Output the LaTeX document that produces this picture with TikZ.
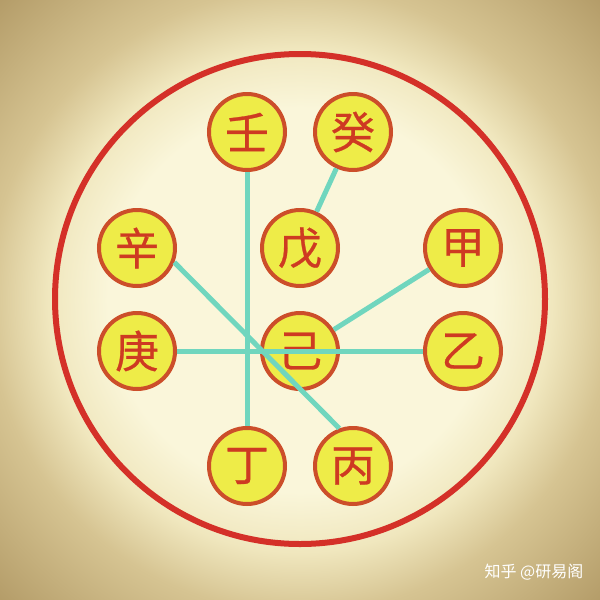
\documentclass[tikz,border=0pt]{standalone}
\usepackage{fontspec}
\newfontfamily\cjk{Noto Sans CJK SC}
\newfontfamily\cjkstem[FakeBold=0.6]{Noto Sans CJK SC}
\definecolor{paper}{RGB}{250,246,218}
\definecolor{paperedge}{RGB}{240,231,190}
\definecolor{tanmid}{RGB}{214,196,146}
\definecolor{tandark}{RGB}{178,154,102}
\definecolor{ringred}{RGB}{212,48,40}
\definecolor{stemfill}{RGB}{238,236,72}
\definecolor{stemedge}{RGB}{204,78,42}
\definecolor{stemtext}{RGB}{206,58,34}
\definecolor{linkteal}{RGB}{112,214,190}
\pgfdeclareradialshading{vignette}{\pgfpoint{0bp}{0bp}}{%
  color(0bp)=(paper); color(16bp)=(paper); color(21bp)=(paperedge);
  color(26bp)=(tanmid); color(36bp)=(tandark); color(50bp)=(tandark)}

\begin{document}
\begin{tikzpicture}[
      x = 1pt, y = -1pt,
      stem/.style = {
        circle,
        draw = stemedge, line width = 4pt,
        fill = stemfill,
        minimum size = 76pt,
        inner sep = 0pt,
        text = stemtext,
        font = \cjkstem\fontsize{44}{44}\selectfont,
      },
      link/.style = {
        draw = linkteal, line width = 5pt,
      },
      signature/.style = {
        text = white,
        font = \cjk\fontsize{16}{16}\selectfont,
      }
    ]
    \useasboundingbox (0,0) rectangle (600,600);
    \shade[shading = vignette] (0,0) rectangle (600,600);

    % outer ring
    \draw[ringred, line width = 6pt] (300,299) circle[radius = 245pt];

    % ten stems
    \node[stem] (ren)  at (247,132) {壬};
    \node[stem] (gui)  at (353,132) {癸};
    \node[stem] (xin)  at (137,248) {辛};
    \node[stem] (wu)   at (300,248) {戊};
    \node[stem] (jia)  at (463,248) {甲};
    \node[stem] (geng) at (137,351) {庚};
    \node[stem] (ji)   at (300,351) {己};
    \node[stem] (yi)   at (463,351) {乙};
    \node[stem] (ding) at (247,466) {丁};
    \node[stem] (bing) at (353,466) {丙};

    \begin{scope}[link]
      \draw (ren) -- (ding);
      \draw (geng) -- (yi);
      \draw (xin.-21) -- (bing.110);
      \draw (gui) -- (wu);
      \draw (jia) -- (ji);
    \end{scope}

    \node[signature] (sign) at (534,572) {知乎 @研易阁};
  \end{tikzpicture}
\end{document}
